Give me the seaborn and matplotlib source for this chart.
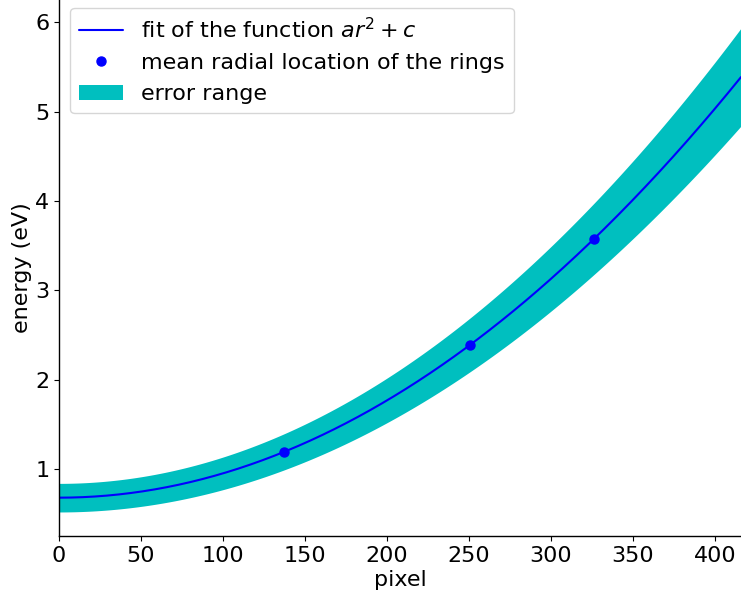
import numpy as np
import pandas as pd
import matplotlib
matplotlib.use("Agg")
import matplotlib.pyplot as plt
import seaborn as sns

# Fit parameters of E(r) = a r^2 + c and their uncertainties
a_fit = 2.72e-5
c_fit = 0.68
a_err = 2.24e-6
c_err = 0.16

# Mean radial ring positions (pixel) and their energies (eV)
ring_pixel = [137.0, 250.5, 326.3]
ring_energy = [1.19, 2.385, 3.575]

r_max = 416

sns.set_style("ticks")
plt.rcParams["font.family"] = ["DejaVu Sans"]
plt.rcParams["font.size"] = 16
plt.rcParams["text.color"] = "black"
plt.rcParams["axes.labelcolor"] = "black"

fig = plt.figure(figsize=(7.41, 6.01), dpi=100)
ax = fig.add_axes([0.0796, 0.108, 0.9204, 0.892])

r = np.linspace(0, r_max, 400)
fit = pd.DataFrame({
    "pixel": r,
    "energy": a_fit * r**2 + c_fit,
})
upper = (a_fit + a_err) * r**2 + (c_fit + c_err)
lower = (a_fit - a_err) * r**2 + (c_fit - c_err)

ax.fill_between(r, lower, upper, color="c", linewidth=0, label="error range")
sns.lineplot(data=fit, x="pixel", y="energy", color="blue", linewidth=1.5,
             ax=ax, label=r"fit of the function $ar^2+c$")
ax.plot(ring_pixel, ring_energy, "o", color="blue", markersize=6.5,
        label="mean radial location of the rings")

handles, labels = ax.get_legend_handles_labels()
order = [1, 2, 0]
leg = ax.legend([handles[i] for i in order], [labels[i] for i in order],
                loc="upper left", bbox_to_anchor=(0.0, 1.006),
                fontsize=16, frameon=True, borderaxespad=0.5)
for t in leg.get_texts():
    t.set_color("black")

ax.set_xlim(0, r_max)
ax.set_ylim(0.25, 6.25)
ax.set_xticks([0, 50, 100, 150, 200, 250, 300, 350, 400])
ax.set_yticks([1, 2, 3, 4, 5, 6])
ax.set_xlabel("pixel", fontsize=16, labelpad=3, color="black")
ax.set_ylabel("energy (eV)", fontsize=16, labelpad=2, color="black")
ax.tick_params(labelsize=16, colors="black")
for s in ["left", "bottom"]:
    ax.spines[s].set_color("black")
    ax.spines[s].set_linewidth(1.0)
sns.despine(ax=ax)

fig.savefig("out.png", dpi=100)
